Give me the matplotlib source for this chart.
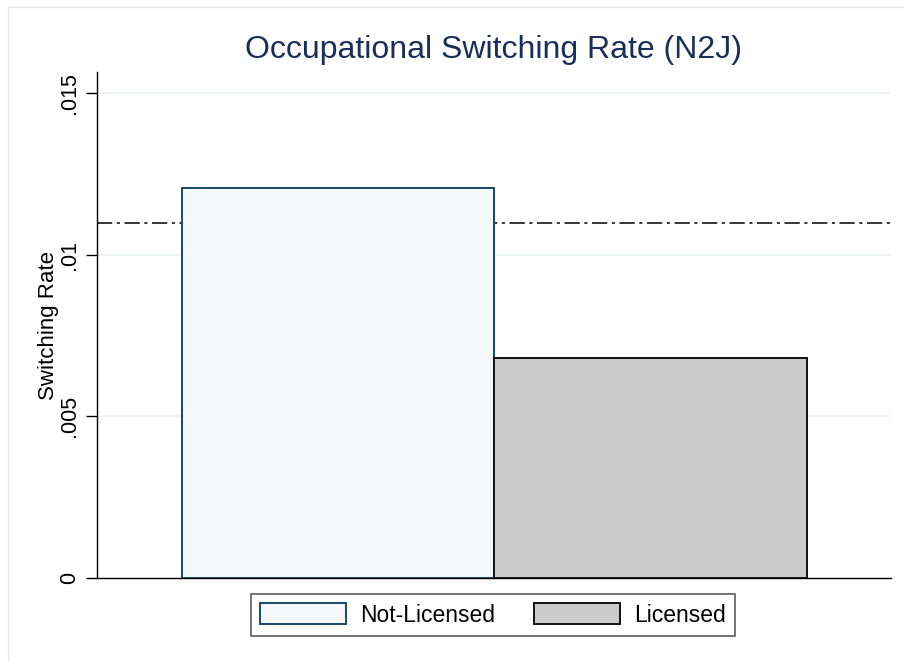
import matplotlib
matplotlib.use("Agg")
import matplotlib.pyplot as plt
from matplotlib.patches import Rectangle, Patch

categories = ["Not-Licensed", "Licensed"]
rates = [0.01206, 0.00679]
reference_rate = 0.01097
yticks = [0, 0.005, 0.01, 0.015]
ytick_labels = ["0", ".005", ".01", ".015"]
title = "Occupational Switching Rate (N2J)"
ylabel = "Switching Rate"

plt.rcParams['font.family'] = ['Liberation Sans', 'DejaVu Sans']

W, H = 905, 662
fig = plt.figure(figsize=(W / 100, H / 100), dpi=100)
fig.patch.set_facecolor("white")

# faint outer frame (graph region)
fig.add_artist(Rectangle((8 / W, -0.2), 1.2, 1.2 - 7 / H, transform=fig.transFigure,
                         fill=False, edgecolor="#e8e8e8", linewidth=1.0))

left, right, top, bottom = 97, 891, 72, 578
ax = fig.add_axes([left / W, 1 - bottom / H, (right - left) / W, (bottom - top) / H])

fills = ["#f4f8f9", "#cccccc"]
edges = ["#1a476f", "#111111"]
xpos = [0, 1]
ax.bar(xpos, rates, width=1.0, color=fills, edgecolor=edges, linewidth=1.4, zorder=3)

ax.axhline(reference_rate, color="black", linestyle=(0, (10, 3, 2, 3)), linewidth=1.1, zorder=2)

ax.set_xlim(-0.772, 1.769)
ax.set_ylim(0, 0.01565)
ax.set_yticks(yticks)
ax.set_yticklabels(ytick_labels, rotation=90, va="center", fontsize=15.5)
ax.set_xticks([])
for t in yticks[1:]:
    ax.axhline(t, color="#eaf2f3", linewidth=1.2, zorder=1)

for s in ["top", "right"]:
    ax.spines[s].set_visible(False)
ax.spines["left"].set_linewidth(1.0)
ax.spines["bottom"].set_linewidth(1.0)
ax.tick_params(axis="y", length=8, width=1.0, pad=4)

ax.set_ylabel(ylabel, fontsize=16, labelpad=0)
fig.text(493 / W, 1 - 50 / H, title, ha="center", va="center", fontsize=23, color="#1a2e5a")

handles = [Patch(facecolor=fills[i], edgecolor=edges[i], linewidth=1.4) for i in range(2)]
leg = fig.legend(handles, categories, loc="center", bbox_to_anchor=(493 / W, 1 - 615 / H),
                 ncol=2, fontsize=16.5, frameon=True, fancybox=False, edgecolor="#333333",
                 handlelength=3.75, handleheight=1.0, columnspacing=1.7, handletextpad=0.6,
                 borderpad=0.4)
leg.get_frame().set_linewidth(1.2)

fig.savefig("out.png", dpi=100)
